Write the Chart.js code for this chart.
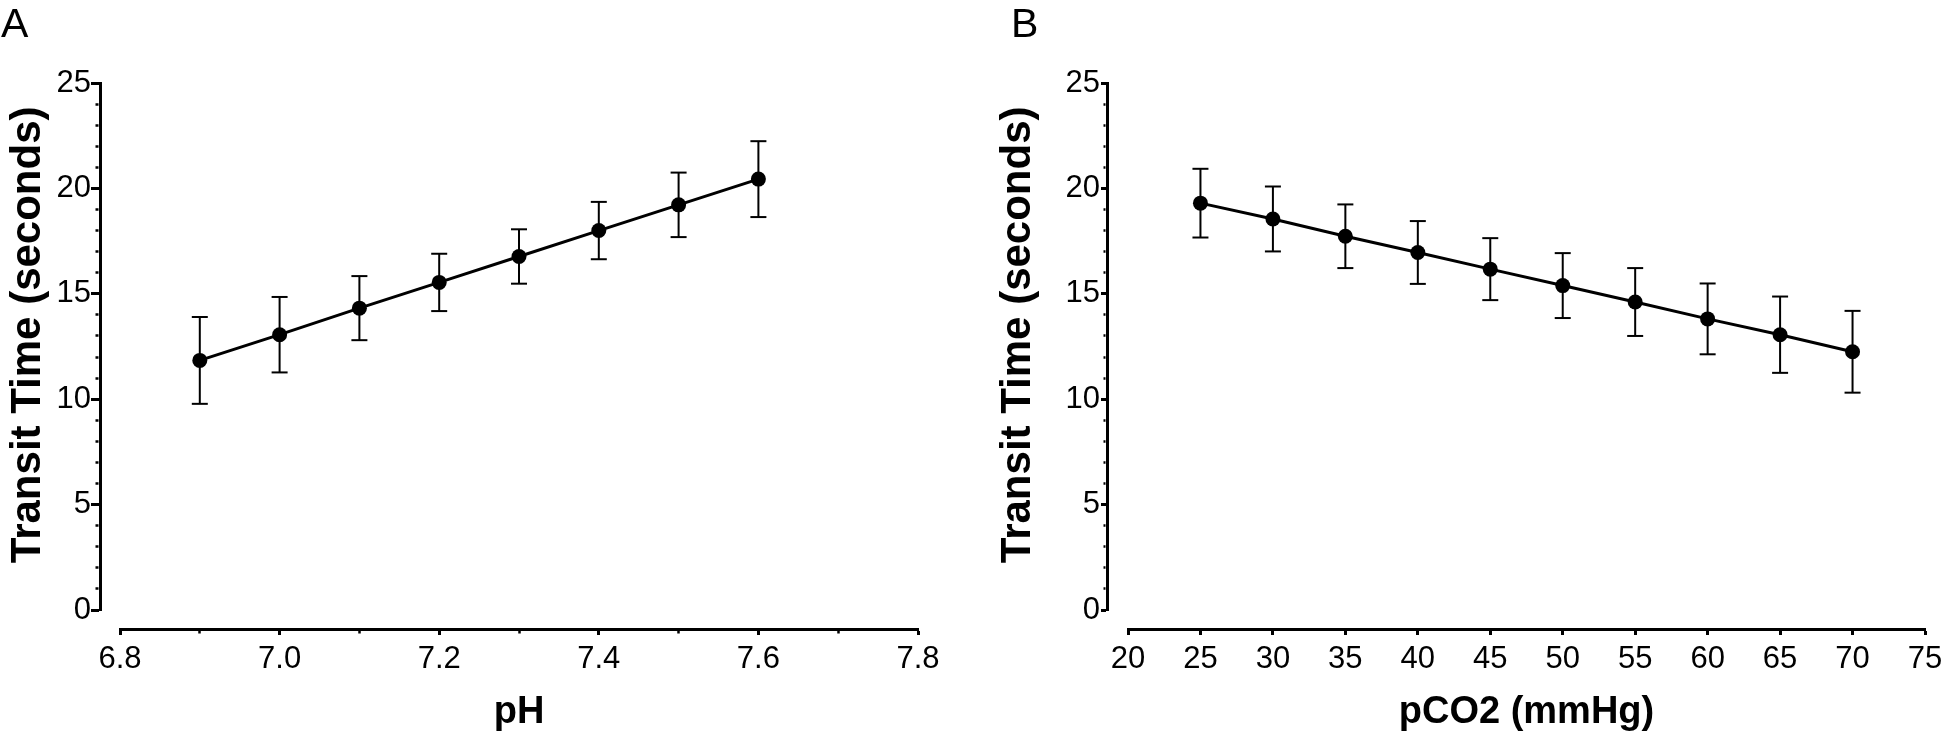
<!DOCTYPE html>
<html><head><meta charset="utf-8">
<script src="https://cdn.jsdelivr.net/npm/chart.js@4.4.1/dist/chart.umd.min.js"></script>
<style>
html,body{margin:0;padding:0;background:#fff;}
body{width:1946px;height:737px;position:relative;overflow:hidden;font-family:"Liberation Sans",Arial,sans-serif;}
.panel{position:absolute;top:0;height:737px;}
.letter{position:absolute;font-size:41px;line-height:41px;color:#000;font-family:"Liberation Sans",Arial,sans-serif;}
</style></head><body>
<div class="panel" style="left:0;width:975px"><canvas id="ca"></canvas></div>
<div class="panel" style="left:980px;width:966px"><canvas id="cb"></canvas></div>
<div class="letter" style="left:1px;top:3px">A</div>
<div class="letter" style="left:1011px;top:3px">B</div>
<script>
// ---- data ----
const phValues = [6.9, 7.0, 7.1, 7.2, 7.3, 7.4, 7.5, 7.6];
const phTransit = [11.84, 13.06, 14.32, 15.54, 16.77, 18.0, 19.22, 20.44];
const phError = [2.06, 1.79, 1.52, 1.36, 1.29, 1.36, 1.53, 1.80];

const pco2Values = [25, 30, 35, 40, 45, 50, 55, 60, 65, 70];
const pco2Transit = [19.30, 18.55, 17.73, 16.96, 16.17, 15.39, 14.61, 13.81, 13.06, 12.25];
const pco2Error = [1.63, 1.54, 1.51, 1.49, 1.47, 1.54, 1.61, 1.68, 1.81, 1.94];

const phMajorTicks = [6.8, 7.0, 7.2, 7.4, 7.6, 7.8];
const phMinorTicks = [6.9, 7.1, 7.3, 7.5, 7.7];
const phTickLabels = ['6.8', '7.0', '7.2', '7.4', '7.6', '7.8'];

const pco2MajorTicks = [20, 25, 30, 35, 40, 45, 50, 55, 60, 65, 70, 75];
const pco2MinorTicks = [];
const pco2TickLabels = ['20', '25', '30', '35', '40', '45', '50', '55', '60', '65', '70', '75'];

const yMajorTicks = [0, 5, 10, 15, 20, 25];
const yMinorTicks = [1, 2, 3, 4, 6, 7, 8, 9, 11, 12, 13, 14, 16, 17, 18, 19, 21, 22, 23, 24];
const yTickLabels = ['0', '5', '10', '15', '20', '25'];

const yTitle = 'Transit Time (seconds)';
const phTitle = 'pH';
const pco2Title = 'pCO2 (mmHg)';

// ---- helpers ----
const FONT = '"Liberation Sans", Arial, sans-serif';
function near(list, v) { return list.some(t => Math.abs(t - v) < 1e-6); }
function labelFor(majors, labels, v) {
  const i = majors.findIndex(t => Math.abs(t - v) < 1e-6);
  return i >= 0 ? labels[i] : '';
}
function tickList(majors, minors) {
  return majors.concat(minors).sort((a, b) => a - b).map(v => ({ value: v }));
}
function errorPoints(xs, ys, errs) {
  const out = [];
  xs.forEach((x, i) => {
    out.push({ x: x, y: ys[i] - errs[i] });
    out.push({ x: x, y: ys[i] + errs[i] });
    out.push({ x: x, y: null });
  });
  return out;
}
function zeroPad(s) { s.paddingLeft = 0; s.paddingRight = 0; s.paddingTop = 0; s.paddingBottom = 0; }

function buildChart(id, p) {
  const xMin = p.xMajor[0], xMax = p.xMajor[p.xMajor.length - 1];
  const yMin = yMajorTicks[0], yMax = yMajorTicks[yMajorTicks.length - 1];
  return new Chart(document.getElementById(id), {
    type: 'line',
    data: {
      datasets: [
        {
          data: p.xs.map((x, i) => ({ x: x, y: p.ys[i] })),
          borderColor: '#000', borderWidth: 3, tension: 0,
          pointRadius: 7.5, pointHoverRadius: 7.5, pointBackgroundColor: '#000', pointBorderWidth: 0,
          order: 1, clip: false, xAxisID: 'x', yAxisID: 'y'
        },
        {
          data: errorPoints(p.xs, p.ys, p.errs),
          borderColor: '#000', borderWidth: 2, spanGaps: false,
          pointStyle: 'line', pointRadius: 8, pointHoverRadius: 8, pointBorderWidth: 2, pointBorderColor: '#000',
          order: 2, clip: false, xAxisID: 'x', yAxisID: 'y'
        }
      ]
    },
    options: {
      responsive: true, maintainAspectRatio: false, animation: false, events: [],
      layout: { padding: { left: 0, top: 83, right: p.padRight, bottom: 0 } },
      plugins: { legend: { display: false }, tooltip: { enabled: false } },
      scales: {
        x: {
          type: 'linear', position: 'bottom', min: xMin, max: xMax, weight: 0,
          ticks: { display: false }, grid: { display: false }, border: { display: false },
          afterFit: s => { s.height = 19; zeroPad(s); }
        },
        x2: {
          type: 'linear', position: 'bottom', min: xMin, max: xMax, weight: 1,
          afterBuildTicks: s => { s.ticks = tickList(p.xMajor, p.xMinor); },
          ticks: {
            autoSkip: false, maxRotation: 0, minRotation: 0, padding: 6, color: '#000',
            font: { family: FONT, size: 31 },
            callback: v => labelFor(p.xMajor, p.xLabels, v)
          },
          grid: {
            display: true, drawOnChartArea: false, tickLength: 6, tickColor: '#000',
            tickWidth: c => (c.tick && near(p.xMajor, c.tick.value)) ? 3 : 2.5,
            tickBorderDash: c => (c.tick && !near(p.xMajor, c.tick.value)) ? [2.5, 100] : []
          },
          border: { display: true, width: 3, color: '#000' },
          title: { display: true, text: p.xTitle, color: '#000', font: { family: FONT, size: 38, weight: 'bold' }, padding: { top: 0, bottom: 2 } },
          afterFit: s => { s.height = 108; zeroPad(s); }
        },
        y: {
          type: 'linear', position: 'left', min: yMin, max: yMax, weight: 0,
          ticks: { display: false }, grid: { display: false }, border: { display: false },
          afterFit: s => { s.width = p.yInner; zeroPad(s); }
        },
        y2: {
          type: 'linear', position: 'left', min: yMin, max: yMax, weight: 1,
          afterBuildTicks: s => { s.ticks = tickList(yMajorTicks, yMinorTicks); },
          ticks: {
            autoSkip: false, padding: p.yTickPad, color: '#000',
            font: { family: FONT, size: 31 },
            callback: v => labelFor(yMajorTicks, yTickLabels, v)
          },
          grid: {
            display: true, drawOnChartArea: false, tickLength: p.yTickLen, tickColor: '#000',
            tickWidth: c => (c.tick && near(yMajorTicks, c.tick.value)) ? 3 : 2.5,
            tickBorderDash: c => (c.tick && !near(yMajorTicks, c.tick.value)) ? [0, p.yTickLen - 1.5 - p.yMinorLen, p.yMinorLen, 100] : []
          },
          border: { display: true, width: 3, color: '#000' },
          title: { display: true, text: '\u00a0\u00a0' + yTitle, color: '#000', font: { family: FONT, size: 42, weight: 'bold' }, padding: { top: p.yTitlePad, bottom: 0 } },
          afterFit: s => { s.width = p.yOuter; zeroPad(s); }
        }
      }
    }
  });
}

buildChart('ca', {
  xs: phValues, ys: phTransit, errs: phError,
  xMajor: phMajorTicks, xMinor: phMinorTicks, xLabels: phTickLabels, xTitle: phTitle,
  padRight: 57, yInner: 20, yOuter: 100, yTickLen: 9, yMinorLen: 3, yTickPad: 0, yTitlePad: 3
});
buildChart('cb', {
  xs: pco2Values, ys: pco2Transit, errs: pco2Error,
  xMajor: pco2MajorTicks, xMinor: pco2MinorTicks, xLabels: pco2TickLabels, xTitle: pco2Title,
  padRight: 21, yInner: 21, yOuter: 127, yTickLen: 6, yMinorLen: 2, yTickPad: 1, yTitlePad: 13
});
</script>
</body></html>
